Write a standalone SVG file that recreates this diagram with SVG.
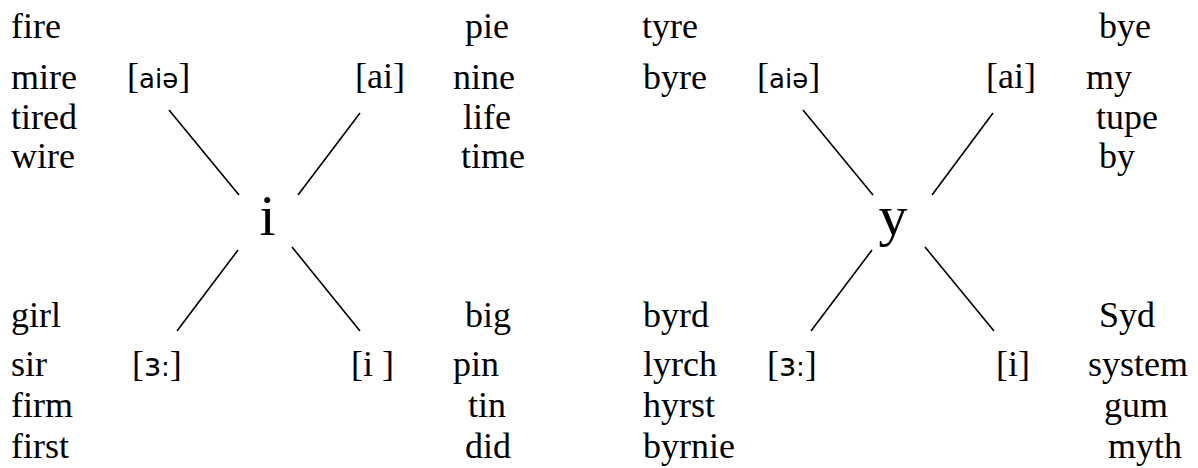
<svg xmlns="http://www.w3.org/2000/svg" width="1198" height="468" viewBox="0 0 1198 468">
  <style>
    .w { font-family: "Liberation Serif", "Times New Roman", serif; font-size: 36px; fill: #000; }
    .big { font-family: "Liberation Serif", "Times New Roman", serif; font-size: 58px; fill: #000; text-anchor: middle; }
    .ipa { font-family: "DejaVu Sans", "Noto Sans", sans-serif; font-size: 26px; }
    .ipa3 { font-family: "DejaVu Sans", "Noto Sans", sans-serif; font-size: 32px; }
    .ipac { font-family: "DejaVu Sans", "Noto Sans", sans-serif; font-size: 26px; }
    .ln { stroke: #000; stroke-width: 1.6; fill: none; stroke-linecap: butt; }
  </style>
  <rect width="1198" height="468" fill="#fff"/>

  <g id="connectors">
    <line class="ln" x1="169" y1="110" x2="239" y2="195"/>
    <line class="ln" x1="360" y1="113" x2="298" y2="195"/>
    <line class="ln" x1="238" y1="250" x2="177" y2="331"/>
    <line class="ln" x1="292" y1="247" x2="360" y2="331"/>
    <line class="ln" x1="803" y1="110" x2="873" y2="195"/>
    <line class="ln" x1="993" y1="113" x2="932" y2="195"/>
    <line class="ln" x1="872" y1="250" x2="811" y2="331"/>
    <line class="ln" x1="925" y1="247" x2="994" y2="331"/>
  </g>

  <g id="node-i">
    <text class="big" x="267.5" y="235">i</text>
  </g>
  <g id="node-y">
    <text class="big" x="893" y="235">y</text>
  </g>

  <g id="left-aie">
    <text class="w" x="127" y="88">[<tspan class="ipa">aiə</tspan>]</text>
  </g>
  <g id="left-ai">
    <text class="w" x="355" y="88">[ai]</text>
  </g>
  <g id="left-er">
    <text class="w" x="132" y="376">[<tspan class="ipa3">ɜ</tspan><tspan class="ipac">:</tspan>]</text>
  </g>
  <g id="left-i">
    <text class="w" x="351" y="376">[i ]</text>
  </g>

  <g id="right-aie">
    <text class="w" x="757" y="88">[<tspan class="ipa">aiə</tspan>]</text>
  </g>
  <g id="right-ai">
    <text class="w" x="986" y="88">[ai]</text>
  </g>
  <g id="right-er">
    <text class="w" x="767" y="376">[<tspan class="ipa3">ɜ</tspan><tspan class="ipac">:</tspan>]</text>
  </g>
  <g id="right-i">
    <text class="w" x="996" y="376">[i]</text>
  </g>

  <g id="words-aie-i">
    <text class="w" x="11" y="38">fire</text>
    <text class="w" x="11" y="89">mire</text>
    <text class="w" x="11" y="129">tired</text>
    <text class="w" x="11" y="168">wire</text>
  </g>
  <g id="words-ai-i">
    <text class="w" x="465" y="38">pie</text>
    <text class="w" x="453" y="89">nine</text>
    <text class="w" x="463" y="129">life</text>
    <text class="w" x="461" y="168">time</text>
  </g>
  <g id="words-er-i">
    <text class="w" x="11" y="327">girl</text>
    <text class="w" x="11" y="376">sir</text>
    <text class="w" x="11" y="417">firm</text>
    <text class="w" x="11" y="458">first</text>
  </g>
  <g id="words-short-i">
    <text class="w" x="465" y="327">big</text>
    <text class="w" x="453" y="376">pin</text>
    <text class="w" x="468" y="417">tin</text>
    <text class="w" x="465" y="458">did</text>
  </g>

  <g id="words-aie-y">
    <text class="w" x="642" y="38">tyre</text>
    <text class="w" x="643" y="89">byre</text>
  </g>
  <g id="words-ai-y">
    <text class="w" x="1099" y="38">bye</text>
    <text class="w" x="1086" y="89">my</text>
    <text class="w" x="1096" y="129">tupe</text>
    <text class="w" x="1099" y="168">by</text>
  </g>
  <g id="words-er-y">
    <text class="w" x="643" y="327">byrd</text>
    <text class="w" x="643" y="376">lyrch</text>
    <text class="w" x="643" y="417">hyrst</text>
    <text class="w" x="643" y="458">byrnie</text>
  </g>
  <g id="words-short-y">
    <text class="w" x="1099" y="327">Syd</text>
    <text class="w" x="1088" y="376">system</text>
    <text class="w" x="1104" y="417">gum</text>
    <text class="w" x="1108" y="458">myth</text>
  </g>
</svg>
